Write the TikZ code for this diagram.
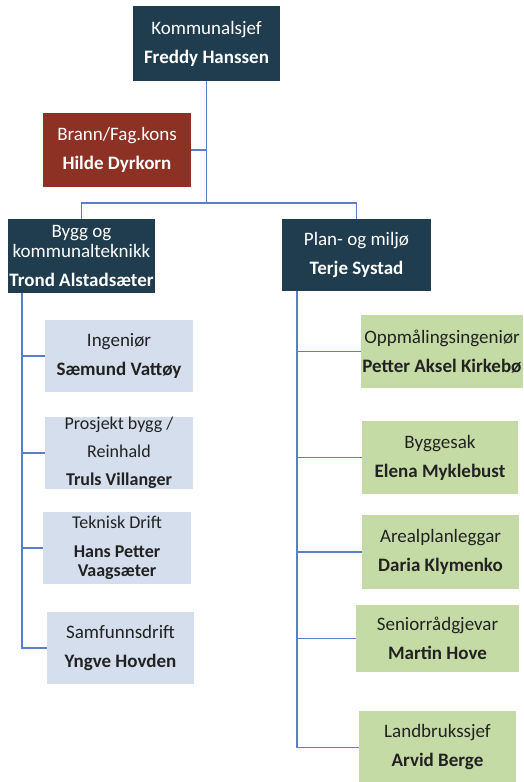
\documentclass[tikz,border=0pt]{standalone}
\usepackage{fontspec}
\setmainfont{Carlito}
\definecolor{darkc}{HTML}{1F3D4F}
\definecolor{redc}{HTML}{8C3123}
\definecolor{bluec}{HTML}{D5DEEC}
\definecolor{greenc}{HTML}{C5DBA5}
\definecolor{linec}{HTML}{5B7EC6}
\definecolor{txtc}{HTML}{222222}
\tikzset{
  box/.style={inner sep=0pt, align=center, font=\fontsize{19}{29}\selectfont},
  darkbox/.style={box, fill=darkc, text=white},
  redbox/.style={box, fill=redc, text=white},
  bluebox/.style={box, fill=bluec, text=txtc},
  greenbox/.style={box, fill=greenc, text=txtc},
  conn/.style={draw=linec, line width=1.6pt},
}
\begin{document}
\begin{tikzpicture}[x=1pt,y=-1pt]
\clip (0,0) rectangle (523,782);
\fill[white] (0,0) rectangle (523,782);
% top level
\node[darkbox, minimum width=147pt, minimum height=75pt] (k) at (206.5,43.5) {Kommunalsjef\\\textbf{Freddy Hanssen}};
\node[redbox, minimum width=148pt, minimum height=74pt] (brann) at (117,150) {Brann/Fag.kons\\\textbf{Hilde Dyrkorn}};
\node[darkbox, minimum width=147pt, minimum height=74pt] (bygg) at (81.5,256) {Bygg og\\[-9pt]kommunalteknikk\\\textbf{Trond Alstadsæter}};
\node[darkbox, minimum width=149pt, minimum height=72pt] (plan) at (356.5,255) {Plan- og miljø\\\textbf{Terje Systad}};
% left column
\node[bluebox, minimum width=148pt, minimum height=72pt] (ing) at (119,356) {Ingeniør\\\textbf{Sæmund Vattøy}};
\node[bluebox, minimum width=148pt, minimum height=72pt, font=\fontsize{18}{28}\selectfont] (pros) at (119,453) {Prosjekt bygg /\\Reinhald\\\textbf{Truls Villanger}};
\node[bluebox, minimum width=148pt, minimum height=72pt, font=\fontsize{18}{29}\selectfont] (tek) at (117,548) {Teknisk Drift\\\textbf{Hans Petter}\\[-10pt]\textbf{Vaagsæter}};
\node[bluebox, minimum width=147pt, minimum height=72pt] (samf) at (120.5,648) {Samfunnsdrift\\\textbf{Yngve Hovden}};
% right column
\node[greenbox, minimum width=162pt, minimum height=73pt] (opp) at (442,351.5) {Oppmålingsingeniør\\\textbf{Petter Aksel Kirkebø}};
\node[greenbox, minimum width=156pt, minimum height=73pt] (bygs) at (440,457.5) {Byggesak\\\textbf{Elena Myklebust}};
\node[greenbox, minimum width=157pt, minimum height=74pt] (areal) at (440.5,552) {Arealplanleggar\\\textbf{Daria Klymenko}};
\node[greenbox, minimum width=163pt, minimum height=67pt] (senior) at (437.5,638.5) {Seniorrådgjevar\\\textbf{Martin Hove}};
\node[greenbox, minimum width=157pt, minimum height=73pt] (land) at (437.5,747.5) {Landbrukssjef\\\textbf{Arvid Berge}};
% connectors
\coordinate (j) at (206.5,203);
\coordinate (lx) at (22,0);
\coordinate (rx) at (297,0);
\draw[conn] (k.south) -- (j);
\draw[conn] (brann.east) -- (brann.east -| k.south);
\draw[conn] (bygg.north) -- (bygg.north |- j) -- (plan.north |- j) -- (plan.north);
\draw[conn] (bygg.south -| lx) -- (samf.west -| lx) -- (samf.west);
\draw[conn] (ing.west -| lx) -- (ing.west);
\draw[conn] (pros.west -| lx) -- (pros.west);
\draw[conn] (tek.west -| lx) -- (tek.west);
\draw[conn] (plan.south -| rx) -- (land.west -| rx) -- (land.west);
\draw[conn] (opp.west -| rx) -- (opp.west);
\draw[conn] (bygs.west -| rx) -- (bygs.west);
\draw[conn] (areal.west -| rx) -- (areal.west);
\draw[conn] (senior.west -| rx) -- (senior.west);
\end{tikzpicture}
\end{document}
